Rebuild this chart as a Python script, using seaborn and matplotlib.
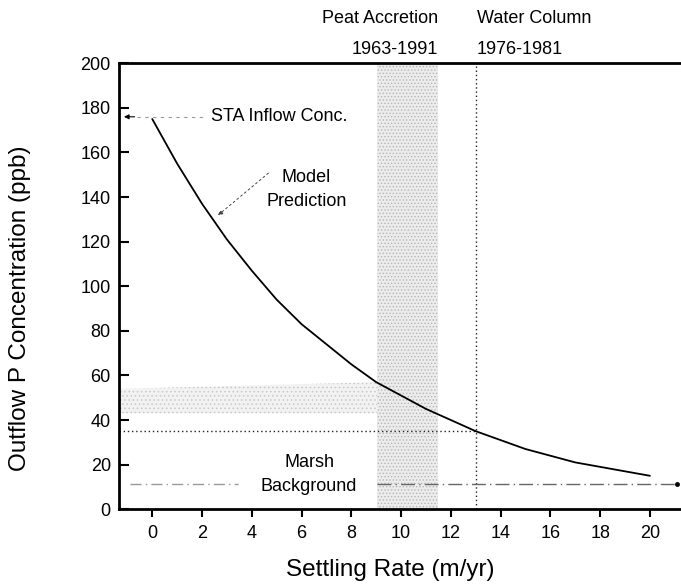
import numpy as np
import pandas as pd
import matplotlib
matplotlib.use("Agg")
import matplotlib.pyplot as plt
import seaborn as sns

# ---- data ----
settling_rate = [0, 1, 2, 3, 4, 5, 6, 7, 8, 9, 10, 11, 12, 13, 14, 15, 16, 17, 18, 19, 20]
outflow_conc = [175, 155, 137, 121, 107, 94, 83, 74, 65, 57, 51, 45, 40, 35, 31, 27, 24, 21, 19, 17, 15]

peat_band_x = [9.05, 11.5]          # Peat Accretion 1963-1991 range
water_column_x = 13.0               # Water Column 1976-1981
target_conc = 35.0
marsh_background = 11.5
inflow_conc = 176.0
hband_x = [-1.33, 9.05]
hband_top = [54, 57]
hband_bottom = [43, 43]

xticks = [0, 2, 4, 6, 8, 10, 12, 14, 16, 18, 20]
yticks = [0, 20, 40, 60, 80, 100, 120, 140, 160, 180, 200]

sns.set_style("ticks")
plt.rcParams['font.family'] = ['Liberation Sans', 'DejaVu Sans']
plt.rcParams['hatch.linewidth'] = 0.6
plt.rcParams['text.color'] = 'black'
plt.rcParams['axes.labelcolor'] = 'black'
plt.rcParams['xtick.color'] = 'black'
plt.rcParams['ytick.color'] = 'black'
plt.rcParams['axes.edgecolor'] = 'black'

fig = plt.figure(figsize=(6.81, 5.86), dpi=100)
ax = fig.add_axes([0.175, 0.131, 0.825, 0.761])

df = pd.DataFrame({"x": settling_rate, "y": outflow_conc})

# shaded bands
ax.fill_betweenx([0, 200], peat_band_x[0], peat_band_x[1], facecolor='#ececec',
                 edgecolor='#b5b5b5', hatch='.....', linewidth=0, zorder=1)
ax.fill_between(hband_x, hband_bottom, hband_top, facecolor='#f2f2f2',
                edgecolor='#c8c8c8', hatch='....', linewidth=0, zorder=1)

# reference lines
ax.plot([-1.33, water_column_x], [target_conc, target_conc], color='#222222',
        linestyle=(0, (1, 2)), linewidth=1.0, zorder=2)
ax.plot([water_column_x, water_column_x], [0, 200], color='#222222',
        linestyle=(0, (1, 2)), linewidth=1.0, zorder=2)
ax.plot([-0.9, 3.45], [marsh_background, marsh_background], color='#999999',
        linestyle=(0, (8, 3, 1, 3)), linewidth=1.0, zorder=2)
ax.plot([9.05, 21.1], [marsh_background, marsh_background], color='#666666',
        linestyle=(0, (10, 3, 1, 3)), linewidth=1.0, zorder=2)
ax.plot([21.1], [marsh_background], 'o', color='black', markersize=2.5, zorder=3)

# model curve
sns.lineplot(data=df, x="x", y="y", ax=ax, color='black', linewidth=1.3, zorder=4)

# annotations
ax.annotate("", xy=(-1.25, inflow_conc), xytext=(-0.6, inflow_conc),
            arrowprops=dict(arrowstyle='-|>', color='black', lw=0.8,
                            mutation_scale=7))
ax.plot([-0.6, 2.2], [inflow_conc, inflow_conc], color='#999999',
        linestyle=(0, (3, 4)), linewidth=0.8)
ax.text(2.35, inflow_conc, "STA Inflow Conc.", fontsize=13, va='center', ha='left')

ax.annotate("", xy=(2.55, 131), xytext=(4.75, 151.5),
            arrowprops=dict(arrowstyle='-|>', color='#444444', lw=0.7,
                            linestyle=(0, (2, 3)), mutation_scale=7))
ax.text(6.2, 149, "Model", fontsize=13, ha='center', va='center')
ax.text(6.2, 138, "Prediction", fontsize=13, ha='center', va='center')

ax.text(6.3, 21, "Marsh", fontsize=13, ha='center', va='center')
ax.text(6.3, 10, "Background", fontsize=13, ha='center', va='center')

ax.text(11.5, 220, "Peat Accretion", fontsize=13, ha='right', va='center', clip_on=False)
ax.text(11.5, 206, "1963-1991", fontsize=13, ha='right', va='center', clip_on=False)
ax.text(13.05, 220, "Water Column", fontsize=13, ha='left', va='center', clip_on=False)
ax.text(13.05, 206, "1976-1981", fontsize=13, ha='left', va='center', clip_on=False)

# axes
ax.set_xlim(-1.33, 21.25)
ax.set_ylim(0, 200)
ax.set_xticks(xticks)
ax.set_yticks(yticks)
ax.tick_params(axis='y', direction='in', length=7, width=1.5, labelsize=13, pad=6)
ax.tick_params(axis='x', direction='out', length=6, width=1.5, labelsize=13, pad=5)
ax.spines['right'].set_visible(False)
for s in ['left', 'top', 'bottom']:
    ax.spines[s].set_linewidth(2.0)
ax.set_xlabel("Settling Rate (m/yr)", fontsize=17.5)
ax.set_ylabel("Outflow P Concentration (ppb)", fontsize=17.5)
ax.xaxis.set_label_coords(0.482, -0.137)
ax.yaxis.set_label_coords(-0.176, 0.45)
ax.xaxis.label.set_va('center')
ax.yaxis.label.set_va('center')

fig.savefig("out.png", dpi=100)
